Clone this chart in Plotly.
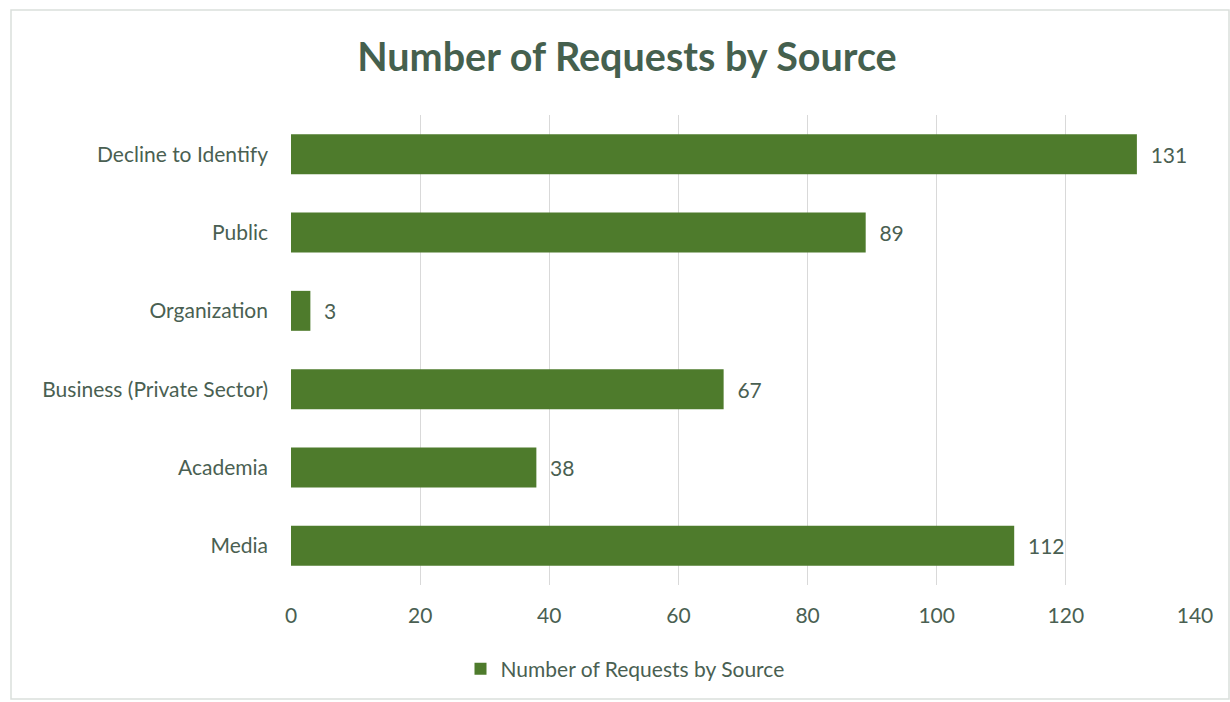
import plotly.graph_objects as go

categories = ["Decline to Identify", "Public", "Organization",
              "Business (Private Sector)", "Academia", "Media"]
values = [131, 89, 3, 67, 38, 112]
series_name = "Number of Requests by Source"
tick_vals = [0, 20, 40, 60, 80, 100, 120, 140]

BAR = "#4E7B2C"
TXT = "#4A5F52"
TITLE = "#45604E"
FONT = "Lato, 'Open Sans', sans-serif"
FS = 21

fig = go.Figure()
fig.add_trace(go.Bar(
    x=values, y=categories, orientation="h", name=series_name,
    marker=dict(color=BAR, line=dict(width=0)),
    width=0.51,
    text=values, texttemplate="  %{x}", textposition="outside",
    textfont=dict(size=FS, color=TXT, family=FONT),
    cliponaxis=False,
))

fig.update_layout(
    width=1230, height=702,
    margin=dict(l=291, r=35, t=115, b=117, autoexpand=False),
    paper_bgcolor="white", plot_bgcolor="white",
    font=dict(family=FONT, color=TXT, size=FS),
    title=dict(text="<b>" + series_name + "</b>", x=627/1230, xanchor="center",
               y=1 - 57/702, yanchor="middle",
               font=dict(size=39.5, color=TITLE, family=FONT)),
    xaxis=dict(range=[0, 140], tickvals=tick_vals, showgrid=True,
               gridcolor="#D9D9D9", gridwidth=1.3, zeroline=False,
               showline=False, ticks="", tickfont=dict(size=FS, color=TXT),
               ticklabelstandoff=16),
    yaxis=dict(autorange="reversed", showgrid=False, zeroline=False,
               showline=False, ticks="", ticklabelstandoff=22,
               tickfont=dict(size=FS, color=TXT)),
    showlegend=True,
    legend=dict(orientation="h", x=625/1230, xanchor="center", xref="container",
                y=1 - 669/702, yref="container", yanchor="middle",
                font=dict(size=FS, color=TXT), itemwidth=30),
    bargap=0.49,
    shapes=[dict(type="rect", xref="paper", yref="paper",
                 x0=(11-291)/904, x1=(1229-291)/904,
                 y0=(585-699)/470, y1=(585-10)/470,
                 line=dict(color="#DADFDC", width=1.5), layer="below")],
)

fig.write_html("out.html")
